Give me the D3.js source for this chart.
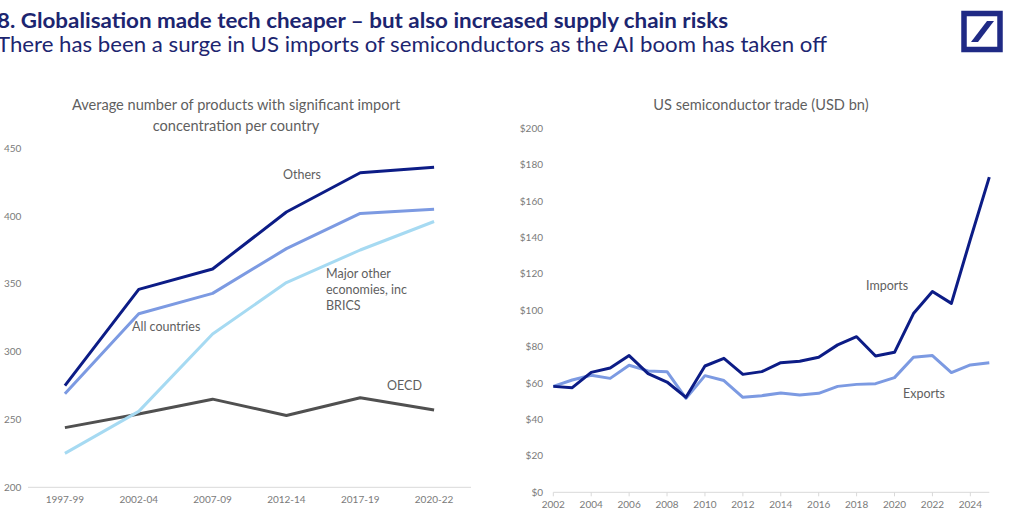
<!DOCTYPE html>
<html>
<head>
<meta charset="utf-8">
<script src="https://cdn.jsdelivr.net/npm/d3@7"></script>
<style>
  html, body { margin: 0; padding: 0; background: #fff; }
  svg { display: block; font-family: Lato, "Open Sans", sans-serif; }
</style>
</head>
<body>
<svg id="chart" width="1024" height="510"></svg>
<script>
// left panel: products with significant import concentration
var periods = ['1997-99', '2002-04', '2007-09', '2012-14', '2017-19', '2020-22'];
var others = [275, 346, 361, 403, 432, 436];
var allCountries = [269, 328, 343, 376, 402, 405];
var majorOther = [225, 256, 313, 351, 375, 396];
var oecd = [244, 254, 265, 253, 266, 257];
var leftTicks = [200, 250, 300, 350, 400, 450];

// right panel: US semiconductor trade (USD bn)
var years = [2002, 2003, 2004, 2005, 2006, 2007, 2008, 2009, 2010, 2011, 2012, 2013,
             2014, 2015, 2016, 2017, 2018, 2019, 2020, 2021, 2022, 2023, 2024, 2025];
var imports = [58.2, 57.5, 65.9, 68.3, 75.1, 65.2, 60.6, 52.2, 69.4, 73.6, 64.8, 66.3,
               71.2, 72.0, 74.2, 81.0, 85.5, 74.9, 76.9, 98.2, 110.3, 103.8, 139, 173.2];
var exports = [58.2, 61.7, 64.3, 62.6, 69.8, 66.7, 66.3, 51.6, 64.1, 61.4, 52.2, 53.1,
               54.6, 53.5, 54.4, 58.2, 59.3, 59.7, 63.0, 74.2, 75.1, 65.8, 70.0, 71.2];
var rightTicks = [0, 20, 40, 60, 80, 100, 120, 140, 160, 180, 200];
var yearTicks = [2002, 2004, 2006, 2008, 2010, 2012, 2014, 2016, 2018, 2020, 2022, 2024];

var navy = '#0c1c86';
var midBlue = '#7c9ae2';
var lightBlue = '#a6daf2';
var grey = '#505050';
var labelGrey = '#5f5f5f';
var tickGrey = '#7a7a7a';

var svg = d3.select('#chart');

/* header */
svg.append('text')
  .attr('x', -3).attr('y', 28)
  .attr('font-size', 21).attr('font-weight', 700)
  .attr('fill', '#1c2570')
  .attr('textLength', 731).attr('lengthAdjust', 'spacingAndGlyphs')
  .text('8. Globalisation made tech cheaper \u2013 but also increased supply chain risks');
svg.append('text')
  .attr('x', -3).attr('y', 52)
  .attr('font-size', 21)
  .attr('fill', '#1c2570')
  .attr('textLength', 830).attr('lengthAdjust', 'spacingAndGlyphs')
  .text('There has been a surge in US imports of semiconductors as the AI boom has taken off');

// logo
var logo = svg.append('g');
logo.append('rect')
  .attr('x', 964).attr('y', 13.5).attr('width', 36).attr('height', 36)
  .attr('fill', 'none').attr('stroke', '#1f2a85').attr('stroke-width', 5.5);
logo.append('path')
  .attr('d', 'M987,21 L994,21 L978,42 L971,42 Z')
  .attr('fill', '#1f2a85');

/* ---------- left chart ---------- */
var xL = d3.scalePoint().domain(periods).range([28, 471]).padding(0.5);
var yL = d3.scaleLinear().domain([200, 450]).range([487.3, 148.3]);

var gL = svg.append('g');

gL.append('text')
  .attr('x', 236).attr('y', 110)
  .attr('text-anchor', 'middle').attr('font-size', 14.6).attr('fill', labelGrey)
  .text('Average number of products with significant import');
gL.append('text')
  .attr('x', 236).attr('y', 131)
  .attr('text-anchor', 'middle').attr('font-size', 14.6).attr('fill', labelGrey)
  .text('concentration per country');

gL.append('line')
  .attr('x1', 28).attr('x2', 471)
  .attr('y1', yL(200)).attr('y2', yL(200))
  .attr('stroke', '#d9d9d9').attr('stroke-width', 1);

gL.selectAll('.ytick').data(leftTicks).enter().append('text')
  .attr('class', 'ytick')
  .attr('x', 4).attr('y', function(d) { return yL(d) + 3.5; })
  .attr('font-size', 10).attr('fill', tickGrey)
  .text(function(d) { return d; });

gL.selectAll('.xtick').data(periods).enter().append('text')
  .attr('class', 'xtick')
  .attr('x', function(d) { return xL(d); }).attr('y', 503)
  .attr('text-anchor', 'middle').attr('font-size', 10).attr('fill', tickGrey)
  .text(function(d) { return d; });

var lineL = d3.line()
  .x(function(d, i) { return xL(periods[i]); })
  .y(function(d) { return yL(d); });

var leftSeries = [
  { values: oecd, color: grey },
  { values: majorOther, color: lightBlue },
  { values: allCountries, color: midBlue },
  { values: others, color: navy }
];
leftSeries.forEach(function(s) {
  gL.append('path')
    .attr('d', lineL(s.values))
    .attr('fill', 'none').attr('stroke', s.color)
    .attr('stroke-width', 3).attr('stroke-linejoin', 'round');
});

var leftLabels = [
  { t: ['Others'], x: 283, y: 179 },
  { t: ['All countries'], x: 132, y: 331 },
  { t: ['Major other', 'economies, inc', 'BRICS'], x: 326, y: 278 },
  { t: ['OECD'], x: 387, y: 390 }
];
leftLabels.forEach(function(l) {
  l.t.forEach(function(line, i) {
    gL.append('text')
      .attr('x', l.x).attr('y', l.y + i * 16)
      .attr('font-size', 12.5).attr('fill', labelGrey)
      .text(line);
  });
});

/* ---------- right chart ---------- */
var xR = d3.scaleLinear().domain([2002, 2025]).range([553.3, 989.3]);
var yR = d3.scaleLinear().domain([0, 200]).range([492.3, 128.3]);

var gR = svg.append('g');

gR.append('text')
  .attr('x', 761).attr('y', 110)
  .attr('text-anchor', 'middle').attr('font-size', 14.6).attr('fill', labelGrey)
  .text('US semiconductor trade (USD bn)');

gR.append('line')
  .attr('x1', xR(2002)).attr('x2', xR(2025))
  .attr('y1', yR(0)).attr('y2', yR(0))
  .attr('stroke', '#d9d9d9').attr('stroke-width', 1);

gR.selectAll('.tickmark').data(yearTicks).enter().append('line')
  .attr('class', 'tickmark')
  .attr('x1', function(d) { return xR(d); }).attr('x2', function(d) { return xR(d); })
  .attr('y1', yR(0)).attr('y2', yR(0) + 4)
  .attr('stroke', '#d9d9d9');

gR.selectAll('.ytick').data(rightTicks).enter().append('text')
  .attr('class', 'ytick')
  .attr('x', 543).attr('y', function(d) { return yR(d) + 3.5; })
  .attr('text-anchor', 'end').attr('font-size', 10).attr('fill', tickGrey)
  .text(function(d) { return '$' + d; });

gR.selectAll('.xtick').data(yearTicks).enter().append('text')
  .attr('class', 'xtick')
  .attr('x', function(d) { return xR(d); }).attr('y', 508)
  .attr('text-anchor', 'middle').attr('font-size', 10).attr('fill', tickGrey)
  .text(function(d) { return d; });

var lineR = d3.line()
  .x(function(d, i) { return xR(years[i]); })
  .y(function(d) { return yR(d); });

gR.append('path')
  .attr('d', lineR(exports))
  .attr('fill', 'none').attr('stroke', midBlue)
  .attr('stroke-width', 3).attr('stroke-linejoin', 'round');
gR.append('path')
  .attr('d', lineR(imports))
  .attr('fill', 'none').attr('stroke', navy)
  .attr('stroke-width', 3).attr('stroke-linejoin', 'round');

gR.append('text')
  .attr('x', 866).attr('y', 290)
  .attr('font-size', 12.5).attr('fill', labelGrey)
  .text('Imports');
gR.append('text')
  .attr('x', 903).attr('y', 398)
  .attr('font-size', 12.5).attr('fill', labelGrey)
  .text('Exports');
</script>
</body>
</html>
